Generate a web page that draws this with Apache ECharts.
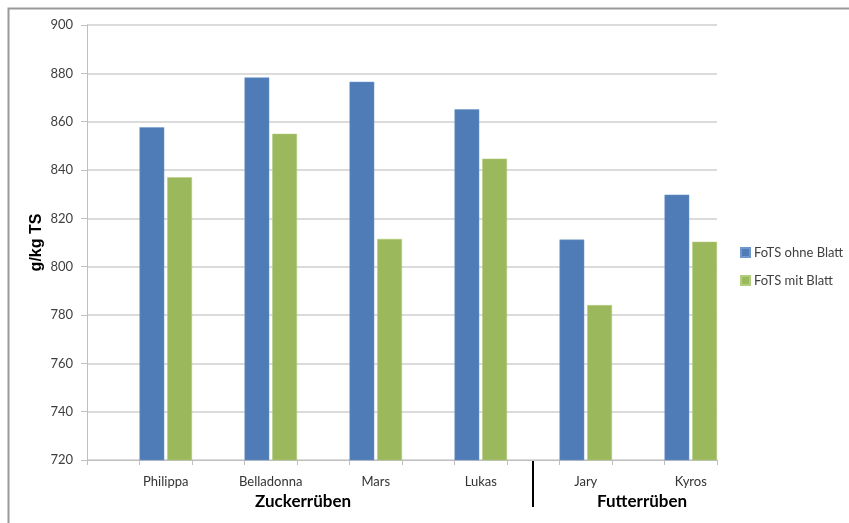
<!DOCTYPE html>
<html>
<head>
<meta charset="utf-8">
<script src="https://cdn.jsdelivr.net/npm/echarts@6/dist/echarts.min.js"></script>
<style>
html,body{margin:0;padding:0;background:#fff;}
#chart{width:849px;height:523px;}
</style>
</head>
<body>
<div id="chart"></div>
<script>
const categories = ['Philippa', 'Belladonna', 'Mars', 'Lukas', 'Jary', 'Kyros'];
const ohneBlatt = [857.7, 878.3, 876.5, 865.1, 811.2, 829.8];
const mitBlatt = [837.0, 855.0, 811.5, 844.7, 784.1, 810.3];
const seriesNames = ['FoTS ohne Blatt', 'FoTS mit Blatt'];
const groupLabels = ['Zuckerrüben', 'Futterrüben'];
const yMin = 720, yMax = 900, yStep = 20;
const yTitle = 'g/kg TS';

// interleave empty spacer categories before each variety
const axisCats = [];
const s1 = [], s2 = [];
categories.forEach((c, i) => {
  axisCats.push(''); s1.push('-'); s2.push('-');
  axisCats.push(c); s1.push(ohneBlatt[i]); s2.push(mitBlatt[i]);
});

const chart = echarts.init(document.getElementById('chart'));
const labelFont = 'Lato, "Open Sans", sans-serif';
chart.setOption({
  animation: false,
  backgroundColor: '#ffffff',
  grid: { left: 87, right: 132, top: 25, bottom: 63, containLabel: false },
  legend: {
    orient: 'vertical',
    left: 740,
    top: 246,
    padding: 0,
    itemWidth: 9,
    itemHeight: 9,
    itemGap: 15,
    icon: 'rect',
    textStyle: { fontFamily: labelFont, fontSize: 13, color: '#404040', padding: [0, 0, 0, -1] },
    data: seriesNames
  },
  xAxis: {
    type: 'category',
    data: axisCats,
    axisLine: { lineStyle: { color: '#bfbfbf', width: 1 } },
    axisTick: { show: true, interval: 0, length: 5, lineStyle: { color: '#bfbfbf' } },
    axisLabel: { interval: 0, margin: 15, fontFamily: labelFont, fontSize: 13, color: '#333333' }
  },
  yAxis: {
    type: 'value',
    min: yMin, max: yMax, interval: yStep,
    name: yTitle,
    nameLocation: 'middle',
    nameGap: 42,
    nameMoveOverlap: false,
    nameRotate: 90,
    nameTextStyle: { fontFamily: 'Arial, "Liberation Sans", sans-serif', fontSize: 16, fontWeight: 'bold', color: '#000' },
    axisLine: { show: true, lineStyle: { color: '#bfbfbf', width: 1 } },
    axisTick: { show: true, length: 6, lineStyle: { color: '#bfbfbf' } },
    axisLabel: { margin: 14, fontFamily: labelFont, fontSize: 13, color: '#404040' },
    splitLine: { lineStyle: { color: '#cfcfcf', width: 1.5 } }
  },
  series: [
    {
      name: seriesNames[0], type: 'bar', data: s1,
      barCategoryGap: '0%', barGap: '12%',
      itemStyle: { color: '#4f7cb6', borderColor: '#6f97cc', borderWidth: 0.5 }
    },
    {
      name: seriesNames[1], type: 'bar', data: s2,
      itemStyle: { color: '#9bb85c', borderColor: '#b3cd7f', borderWidth: 0.5 }
    }
  ],
  graphic: [
    { type: 'rect', shape: { x: 8.5, y: 8.5, width: 900, height: 600 }, style: { fill: 'none', stroke: '#999999', lineWidth: 2 }, silent: true },
    { type: 'line', shape: { x1: 533, y1: 460, x2: 533, y2: 507 }, style: { stroke: '#000', lineWidth: 2 } },
    { type: 'text', left: 255, top: 493, style: { text: groupLabels[0], font: 'bold 17px Lato, "Open Sans", sans-serif', fill: '#000' } },
    { type: 'text', left: 597, top: 493, style: { text: groupLabels[1], font: 'bold 17px Lato, "Open Sans", sans-serif', fill: '#000' } }
  ]
});
</script>
</body>
</html>
